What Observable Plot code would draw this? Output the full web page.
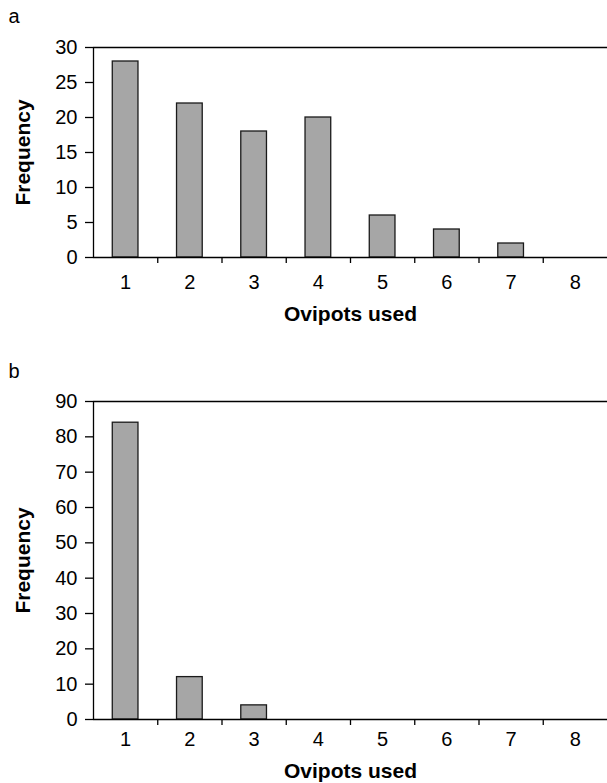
<!DOCTYPE html>
<html>
<head>
<meta charset="utf-8">
<script src="https://cdn.jsdelivr.net/npm/d3@7"></script>
<script src="https://cdn.jsdelivr.net/npm/@observablehq/plot@0.6"></script>
<style>
  html, body { margin: 0; padding: 0; background: #fff; }
  #wrap { width: 607px; height: 783px; position: relative; overflow: hidden; }
  #wrap svg { display: block; }
</style>
</head>
<body>
<div id="wrap"></div>
<script>
const ovipots = [1, 2, 3, 4, 5, 6, 7, 8];
const freqA = [28, 22, 18, 20, 6, 4, 2, 0];
const freqB = [84, 12, 4, 0, 0, 0, 0, 0];
const yTicksA = [0, 5, 10, 15, 20, 25, 30];
const yTicksB = [0, 10, 20, 30, 40, 50, 60, 70, 80, 90];
const panelLabels = ["a", "b"];
const xTitle = "Ovipots used";
const yTitle = "Frequency";

const FONT = "'Liberation Sans', Arial, Helvetica, sans-serif";
const FS = 20;
const FT = 21;
const half = 0.2;
const boundaries = ovipots.slice(0, -1).map(k => k + 0.5);

function panel(freq, yTicks, label, opts) {
  const data = ovipots.map((k, i) => ({k, f: freq[i]}));
  const yMax = yTicks[yTicks.length - 1];
  return Plot.plot({
    width: 607,
    height: opts.height,
    marginTop: opts.marginTop,
    marginBottom: opts.marginBottom,
    marginLeft: 93,
    marginRight: 0,
    style: {fontFamily: FONT, fontSize: FS + "px", color: "#000", background: "#fff"},
    x: {domain: [0.5, 8.5]},
    y: {domain: [0, yMax]},
    marks: [
      Plot.rectY(data, {x1: d => d.k - half, x2: d => d.k + half, y: "f", fill: "#a6a6a6", stroke: "#1a1a1a", strokeWidth: 1.3}),
      Plot.ruleY([0, yMax], {stroke: "#000", strokeWidth: 1.3}),
      Plot.ruleX([0.5], {stroke: "#000", strokeWidth: 1.3}),
      Plot.axisY({ticks: yTicks, tickSize: 8, tickPadding: 8, fontSize: FS, label: null, stroke: "#000", strokeWidth: 1.3}),
      Plot.axisX({ticks: boundaries, tickSize: 6, tickFormat: () => "", label: null, stroke: "#000", strokeWidth: 1.3}),
      Plot.axisX({ticks: ovipots, tickSize: 0, tickPadding: opts.xPad, fontSize: FS, label: null, tickFormat: d => String(d)}),
      Plot.text([xTitle], {frameAnchor: "bottom", lineAnchor: "middle", textAnchor: "middle", dy: opts.titleDy, fontWeight: "bold", fontSize: FT, fill: "#000"}),
      Plot.text([yTitle], {frameAnchor: "left", lineAnchor: "middle", textAnchor: "middle", rotate: -90, dx: -70, fontWeight: "bold", fontSize: FT, fill: "#000"}),
      Plot.text([label], {frameAnchor: "top-left", lineAnchor: "middle", textAnchor: "start", dx: -85, dy: opts.labelDy, fontSize: FS, fill: "#000"})
    ]
  });
}

const wrap = document.getElementById("wrap");
wrap.appendChild(panel(freqA, yTicksA, panelLabels[0], {height: 357, marginTop: 47, marginBottom: 100, xPad: 17, titleDy: 57, labelDy: -31}));
wrap.appendChild(panel(freqB, yTicksB, panelLabels[1], {height: 426, marginTop: 44, marginBottom: 64, xPad: 12, titleDy: 52, labelDy: -30}));
</script>
</body>
</html>
